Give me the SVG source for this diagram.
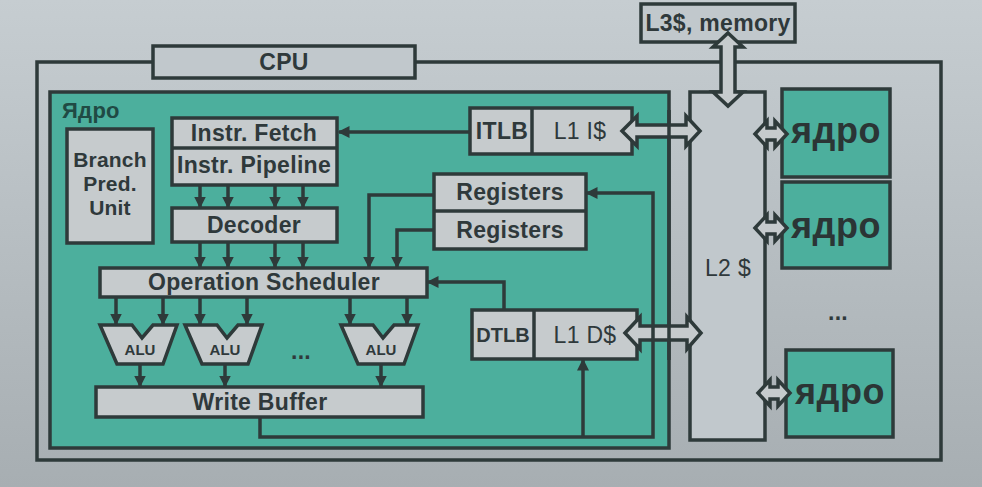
<svg xmlns="http://www.w3.org/2000/svg" width="982" height="487" viewBox="0 0 982 487">
<defs>
<linearGradient id="bg" x1="0" y1="0" x2="0" y2="1">
<stop offset="0" stop-color="#c6cdd1"/>
<stop offset="1" stop-color="#a7aeb2"/>
</linearGradient>
<marker id="ah" markerUnits="userSpaceOnUse" markerWidth="13" markerHeight="13" refX="10.5" refY="6" orient="auto">
<path d="M0,0 L12,6 L0,12 z" fill="#2e3a3a"/>
</marker>
<style>
.box{fill:#c6cbcd;stroke:#2e3a3a;stroke-width:3.5}
.bgbox{fill:#c1c8cc;stroke:#2e3a3a;stroke-width:3.5}
.teal{fill:#4caf9d;stroke:#2e3a3a;stroke-width:3.5}
.ln{fill:none;stroke:#2e3a3a;stroke-width:3.5}
.con{fill:none;stroke:#2e3a3a;stroke-width:3.5;marker-end:url(#ah)}
.dbl{fill:#c6cbcd;stroke:#2e3a3a;stroke-width:3.5;stroke-linejoin:miter}
.t{font-family:"Liberation Sans",Arial,sans-serif;font-weight:bold;fill:#2f393b;text-anchor:middle;font-size:23px;letter-spacing:0.3px}
.r{font-weight:normal}
.bp{font-size:21px;letter-spacing:0.2px}
.alu{font-size:15px;letter-spacing:0}
.big{font-size:36px;fill:#2b3535;letter-spacing:0.5px}
</style>
</defs>
<rect x="0" y="0" width="982" height="487" fill="url(#bg)"/>

<g id="cpu">
<rect x="37" y="62" width="904" height="398" fill="none" stroke="#2e3a3a" stroke-width="3.5"/>
<rect class="bgbox" x="153" y="46" width="262" height="32"/>
<text class="t" x="284" y="70">CPU</text>
</g>

<g id="l3">
<rect class="bgbox" x="641" y="4" width="154" height="38"/>
<text class="t" x="718" y="31">L3$, memory</text>
</g>

<g id="core">
<rect class="teal" x="50" y="92" width="619" height="356"/>
<text class="t" x="62" y="118" style="text-anchor:start;fill:#204a44;font-size:22px">Ядро</text>
</g>

<g id="branch">
<rect class="box" x="67" y="129" width="86" height="114"/>
<text class="t bp" x="110" y="167">Branch</text>
<text class="t bp" x="110" y="191">Pred.</text>
<text class="t bp" x="110" y="215">Unit</text>
</g>

<g id="fetch">
<rect class="box" x="172" y="118" width="165" height="67"/>
<line class="ln" x1="172" y1="148" x2="337" y2="148"/>
<text class="t" x="254" y="141">Instr. Fetch</text>
<text class="t" x="254" y="173">Instr. Pipeline</text>
</g>

<g id="decoder">
<rect class="box" x="172" y="208" width="165" height="34"/>
<text class="t" x="254" y="233">Decoder</text>
</g>

<g id="scheduler">
<rect class="box" x="100" y="268" width="327" height="29"/>
<text class="t" x="264" y="290">Operation Scheduler</text>
</g>

<g id="registers">
<rect class="box" x="434" y="174" width="152" height="75"/>
<line class="ln" x1="434" y1="211" x2="586" y2="211"/>
<text class="t" x="510" y="200">Registers</text>
<text class="t" x="510" y="238">Registers</text>
</g>

<g id="icache">
<rect class="box" x="470" y="108" width="162" height="46"/>
<line class="ln" x1="532" y1="108" x2="532" y2="154"/>
<text class="t" x="502" y="139">ITLB</text>
<text class="t r" x="580" y="139">L1 I$</text>
</g>

<g id="dcache">
<rect class="box" x="472" y="310" width="165" height="49"/>
<line class="ln" x1="534" y1="310" x2="534" y2="359"/>
<text class="t" x="503" y="342" style="font-size:20px;letter-spacing:0">DTLB</text>
<text class="t r" x="585" y="343">L1 D$</text>
</g>

<g id="alu1">
<polygon class="box" points="100,325 132,325 142,338 153,325 177,325 163,364 117,364"/>
<text class="t alu" x="140" y="355">ALU</text>
</g>
<g id="alu2">
<polygon class="box" points="185,325 217,325 227,338 238,325 262,325 248,364 202,364"/>
<text class="t alu" x="225" y="355">ALU</text>
</g>
<g id="alu3">
<polygon class="box" points="341,325 373,325 383,338 394,325 418,325 404,364 358,364"/>
<text class="t alu" x="381" y="355">ALU</text>
</g>
<text class="t" x="301" y="359">...</text>

<g id="wbuf">
<rect class="box" x="96" y="387" width="327" height="30"/>
<text class="t" x="260" y="410">Write Buffer</text>
</g>

<g id="l2">
<rect class="bgbox" x="690" y="92" width="75" height="348"/>
<text class="t r" x="728" y="276">L2 $</text>
</g>

<g id="core2">
<rect class="teal" x="782" y="89" width="108" height="88"/>
<text class="t big" x="836" y="143">ядро</text>
</g>
<g id="core3">
<rect class="teal" x="782" y="182" width="108" height="86"/>
<text class="t big" x="836" y="238">ядро</text>
</g>
<text class="t" x="838" y="320">...</text>
<g id="core4">
<rect class="teal" x="786" y="350" width="107" height="87"/>
<text class="t big" x="840" y="404">ядро</text>
</g>

<g id="connectors">
<polygon class="dbl" points="728,33 743,47 735,47 735,92 743,92 728,106 713,92 721,92 721,47 713,47"/>
<polygon class="dbl" points="622,131 637,116 637,125 686,125 686,116 700,131 686,146 686,137 637,137 637,146"/>
<polygon class="dbl" points="625,333 640,317 640,326 687,326 687,317 701,333 687,349 687,340 640,340 640,349"/>
<polygon class="dbl" points="755,134 767,121 767,128 775,128 775,121 787,134 775,147 775,140 767,140 767,147"/>
<polygon class="dbl" points="755,228 767,215 767,222 775,222 775,215 787,228 775,241 775,234 767,234 767,241"/>
<polygon class="dbl" points="758,393 770,380 770,387 778,387 778,380 790,393 778,406 778,399 770,399 770,406"/>

<path class="con" d="M470,132 H339"/>
<path class="con" d="M200,186 V207"/>
<path class="con" d="M228,186 V207"/>
<path class="con" d="M275,186 V207"/>
<path class="con" d="M303,186 V207"/>
<path class="con" d="M200,243 V267"/>
<path class="con" d="M228,243 V267"/>
<path class="con" d="M275,243 V267"/>
<path class="con" d="M303,243 V267"/>
<path class="con" d="M116,298 V324"/>
<path class="con" d="M163,298 V324"/>
<path class="con" d="M200,298 V324"/>
<path class="con" d="M247,298 V324"/>
<path class="con" d="M350,298 V324"/>
<path class="con" d="M407,298 V324"/>
<path class="con" d="M140,365 V386"/>
<path class="con" d="M225,365 V386"/>
<path class="con" d="M381,365 V386"/>
<path class="con" d="M434,195 H369 V267"/>
<path class="con" d="M434,230 H397 V267"/>
<path class="con" d="M504,310 V282 H428"/>
<path class="con" d="M260,417 V437 H653 V193 H587"/>
<path class="con" d="M583,437 V360"/>
<line class="ln" x1="669" y1="110" x2="669" y2="360"/>
</g>
</svg>
